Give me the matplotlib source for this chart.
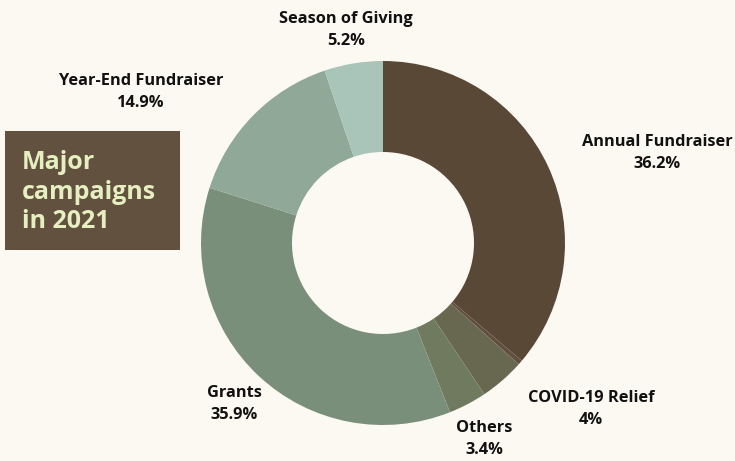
import matplotlib
matplotlib.use('Agg')

import matplotlib.pyplot as plt

# Share of funds raised per campaign (%), clockwise from the top
campaigns = ['Annual Fundraiser', '', 'COVID-19 Relief', 'Others',
             'Grants', 'Year-End Fundraiser', 'Season of Giving']
shares = [36.2, 0.4, 4, 3.4, 35.9, 14.9, 5.2]
shown = ['36.2%', '', '4%', '3.4%', '35.9%', '14.9%', '5.2%']

colors = ['#5a4837', '#614f3d', '#67684f', '#707a5f',
          '#7a8f7a', '#8fa898', '#a9c4b9']

# Label anchors in pixel space (x, y from top)
label_pos = [(657, 153), None, (591, 409), (484, 439),
             (234, 404), (141, 92), (346, 30)]

W, H = 735, 461
bg = '#fcf9f3'

fig = plt.figure(figsize=(W / 100, H / 100), dpi=100, facecolor=bg)
ax = fig.add_axes([0, 0, 1, 1])
ax.set_facecolor(bg)

cx, cy, r = 383, H - 243, 182
ax.pie(shares, colors=colors, startangle=90, counterclock=False,
       center=(cx, cy), radius=r,
       wedgeprops=dict(width=r * 0.5, linewidth=0))

ax.set_xlim(0, W)
ax.set_ylim(0, H)
ax.set_aspect('equal')
ax.axis('off')

for name, val, pos in zip(campaigns, shown, label_pos):
    if pos is None:
        continue
    ax.text(pos[0], H - pos[1], f'{name}\n{val}', ha='center', va='center',
            fontsize=11.8, fontweight='bold', family='Open Sans',
            color='#111111', linespacing=1.5)

# Title card on the left
ax.add_patch(plt.Rectangle((5, H - 250), 175, 119, color='#62513f', lw=0))
ax.text(22, H - 192, 'Major\ncampaigns\nin 2021', ha='left', va='center',
        fontsize=18, fontweight='bold', family='Open Sans', color='#e6efc0',
        linespacing=1.25)

fig.savefig('out.png', dpi=100, facecolor=bg)
